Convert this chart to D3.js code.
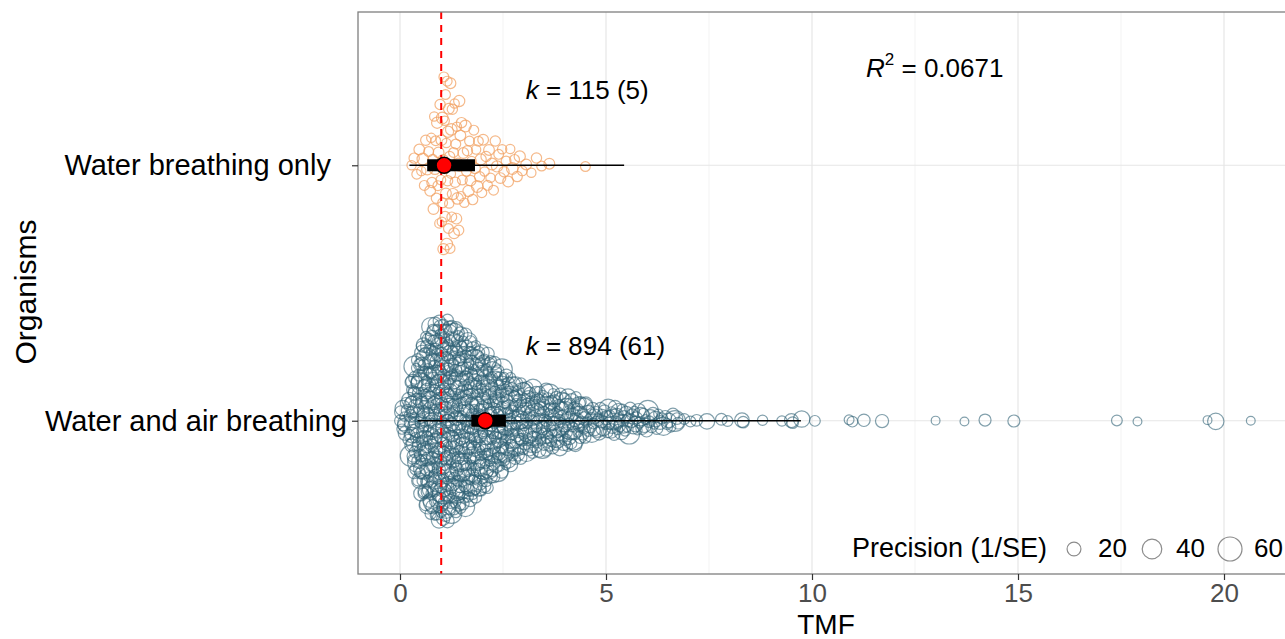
<!DOCTYPE html>
<html>
<head>
<meta charset="utf-8">
<script src="https://cdn.jsdelivr.net/npm/d3@7"></script>
<style>
  body { margin: 0; background: #fff; }
  text { font-family: "Liberation Sans", Arial, sans-serif; }
</style>
</head>
<body>
<div id="chart"></div>
<script>
const categories = ["Water breathing only", "Water and air breathing"];

const binWidth = 0.25;
const binStarts = [0, 0.25, 0.5, 0.75, 1, 1.25, 1.5, 1.75, 2, 2.25, 2.5, 2.75, 3, 3.25,
  3.5, 3.75, 4, 4.25, 4.5, 4.75, 5, 5.25, 5.5, 5.75, 6, 6.25, 6.5];
const countsWater = [0, 4, 7, 14, 25, 18, 10, 9, 7, 6, 5, 4, 2, 2,
  1, 0, 0, 0, 0, 0, 0, 0, 0, 0, 0, 0, 0];
const countsAir = [13, 47, 68, 79, 79, 73, 67, 59, 52, 43, 37, 30, 27, 25,
  24, 22, 21, 17, 12, 10, 12, 11, 10, 9, 8, 6, 5];

// isolated points in the tails
const tailWater = [4.5];
const tailWaterPrec = [10];
const tailAir = [6.75, 6.9, 7.05, 7.2, 7.45, 7.8, 7.95, 8.3, 8.33, 8.8, 9.27, 9.5, 9.53, 9.75,
  10.07, 10.9, 10.98, 11.26, 11.7, 13.0, 13.7, 14.2, 14.9, 17.4, 17.9, 19.6, 19.8, 20.65];
const tailAirPrec = [14, 12, 12, 14, 25, 14, 12, 22, 14, 11, 11, 20, 14, 28,
  12, 10, 12, 16, 18, 8, 8, 15, 15, 12, 8, 8, 28, 8];

const precWater = [9, 11, 10, 12, 9, 14, 10, 11, 13, 10, 12];
const precAir = [14, 18, 11, 25, 15, 9, 20, 13, 35, 16, 12, 22, 10, 17, 45, 14, 19];

// model estimates
const estimate = [1.07, 2.07];
const ciLow = [0.66, 1.73];
const ciHigh = [1.82, 2.57];
const piLow = [0.23, 0.43];
const piHigh = [5.44, 9.73];
const kText = ["115 (5)", "894 (61)"];
const r2Text = "0.0671";
const legendValues = [20, 40, 60];
const xTicks = [0, 5, 10, 15, 20];
const xMinor = [2.5, 7.5, 12.5, 17.5];
const refLine = 1;

const width = 1285, height = 639;
const panel = { left: 358, right: 1294, top: 12, bottom: 574 };

const x = d3.scaleLinear().domain([0, 20]).range([400, 1224]);
const y = d3.scalePoint().domain(categories).range([panel.top, panel.bottom]).padding(0.6);
const r = d3.scaleSqrt().domain([0, 60]).range([0, 12]);

const svg = d3.select("#chart").append("svg")
  .attr("width", width).attr("height", height);

svg.append("defs").append("clipPath").attr("id", "clip")
  .append("rect")
  .attr("x", panel.left).attr("y", panel.top)
  .attr("width", panel.right - panel.left).attr("height", panel.bottom - panel.top);

// grid
const grid = svg.append("g");
grid.selectAll(".minor").data(xMinor).enter().append("line")
  .attr("x1", d => x(d)).attr("x2", d => x(d))
  .attr("y1", panel.top).attr("y2", panel.bottom)
  .attr("stroke", "#ebebeb").attr("stroke-width", 0.6);
grid.selectAll(".major").data(xTicks).enter().append("line")
  .attr("x1", d => x(d)).attr("x2", d => x(d))
  .attr("y1", panel.top).attr("y2", panel.bottom)
  .attr("stroke", "#e6e6e6").attr("stroke-width", 1.2);
grid.selectAll(".hmajor").data(categories).enter().append("line")
  .attr("x1", panel.left).attr("x2", panel.right)
  .attr("y1", d => y(d)).attr("y2", d => y(d))
  .attr("stroke", "#e6e6e6").attr("stroke-width", 1.2);

// van der Corput sequence for quasirandom offsets
function vdc(n) {
  let q = 0, bk = 0.5;
  while (n > 0) { q += (n % 2) * bk; n = Math.floor(n / 2); bk /= 2; }
  return q;
}

function buildGroup(counts, tail, tailPrec, prec) {
  const pts = [];
  let k = 0;
  counts.forEach((n, i) => {
    for (let j = 0; j < n; j++) {
      pts.push({ v: binStarts[i] + binWidth * (j + 0.5) / n, p: prec[k % prec.length] });
      k++;
    }
  });
  tail.forEach((v, i) => pts.push({ v: v, p: tailPrec[i] }));
  // density per bin (all points), interpolated between bin centres
  const nb = Math.ceil(22 / binWidth);
  const hist = new Array(nb).fill(0);
  pts.forEach(d => hist[Math.min(nb - 1, Math.floor(d.v / binWidth))]++);
  const maxH = d3.max(hist);
  const dens = v => {
    const t = v / binWidth - 0.5;
    const i0 = Math.max(0, Math.floor(t)), i1 = Math.min(nb - 1, i0 + 1);
    const f = Math.max(0, Math.min(1, t - i0));
    return (hist[i0] * (1 - f) + hist[i1] * f) / maxH;
  };
  const sorted = pts.slice().sort((a, b) => a.v - b.v);
  sorted.forEach((d, i) => { d.off = (2 * vdc(i + 1) - 1) * dens(d.v); });
  return pts;
}

const groups = [
  { cat: categories[0], pts: buildGroup(countsWater, tailWater, tailWaterPrec, precWater), color: "#f2a263", op: 0.75 },
  { cat: categories[1], pts: buildGroup(countsAir, tailAir, tailAirPrec, precAir), color: "#2e6175", op: 0.6 }
];
const halfWidth = 102;

const plot = svg.append("g").attr("clip-path", "url(#clip)");
groups.forEach(g => {
  plot.append("g").selectAll("circle").data(g.pts).enter().append("circle")
    .attr("cx", d => x(d.v))
    .attr("cy", d => y(g.cat) + d.off * halfWidth)
    .attr("r", d => r(d.p))
    .attr("fill", "none")
    .attr("stroke", g.color)
    .attr("stroke-opacity", g.op)
    .attr("stroke-width", 1.2);
});

// reference line
plot.append("line")
  .attr("x1", x(refLine)).attr("x2", x(refLine))
  .attr("y1", panel.top).attr("y2", panel.bottom)
  .attr("stroke", "#ff0000").attr("stroke-width", 2)
  .attr("stroke-dasharray", "7,6");

// prediction & confidence intervals, estimates
const est = plot.append("g");
categories.forEach((c, i) => {
  est.append("line")
    .attr("x1", x(piLow[i])).attr("x2", x(piHigh[i]))
    .attr("y1", y(c)).attr("y2", y(c))
    .attr("stroke", "#000").attr("stroke-width", 1.6);
  est.append("rect")
    .attr("x", x(ciLow[i])).attr("width", x(ciHigh[i]) - x(ciLow[i]))
    .attr("y", y(c) - 6).attr("height", 12)
    .attr("fill", "#000");
  est.append("circle")
    .attr("cx", x(estimate[i])).attr("cy", y(c)).attr("r", 8)
    .attr("fill", "#ff0000").attr("stroke", "#000").attr("stroke-width", 1.5);
});

// k labels
categories.forEach((c, i) => {
  const t = svg.append("text")
    .attr("x", x(3.05)).attr("y", y(c) - 66)
    .attr("font-size", 26).attr("fill", "#000")
    .style("white-space", "pre");
  t.append("tspan").attr("font-style", "italic").text("k");
  t.append("tspan").text(" = " + kText[i]);
});

// R squared
const r2 = svg.append("text").attr("x", 866).attr("y", 77).attr("font-size", 26).attr("fill", "#000")
  .style("white-space", "pre");
r2.append("tspan").attr("font-style", "italic").text("R");
r2.append("tspan").attr("font-size", 17).attr("dy", -12).text("2");
r2.append("tspan").attr("dy", 12).text(" = " + r2Text);

// legend
const leg = svg.append("g");
leg.append("text").attr("x", 852).attr("y", 557).attr("font-size", 27).attr("fill", "#000")
  .text("Precision (1/SE)");
const legX = [1074, 1152, 1230];
legendValues.forEach((v, i) => {
  leg.append("circle").attr("cx", legX[i]).attr("cy", 549).attr("r", r(v))
    .attr("fill", "none").attr("stroke", "#8c8c8c").attr("stroke-width", 1.2);
  leg.append("text").attr("x", legX[i] + 24).attr("y", 557).attr("font-size", 26).attr("fill", "#000")
    .text(v);
});

// panel border
svg.append("rect")
  .attr("x", panel.left).attr("y", panel.top)
  .attr("width", panel.right - panel.left).attr("height", panel.bottom - panel.top)
  .attr("fill", "none").attr("stroke", "#7f7f7f").attr("stroke-width", 1.3);

// axes
const xAxis = svg.append("g")
  .attr("transform", `translate(0,${panel.bottom})`)
  .call(d3.axisBottom(x).tickValues(xTicks).tickSize(6).tickPadding(4));
xAxis.select(".domain").remove();
xAxis.selectAll("line").attr("stroke", "#333").attr("stroke-width", 1.2);
xAxis.selectAll("text").attr("font-size", 26).attr("fill", "#4d4d4d")
  .attr("font-family", "Liberation Sans, Arial, sans-serif");

const yAxis = svg.append("g")
  .attr("transform", `translate(${panel.left},0)`)
  .call(d3.axisLeft(y).tickSize(6).tickPadding(5)
    .tickFormat(d => d === categories[0] ? d + "  " : d));
yAxis.select(".domain").remove();
yAxis.selectAll("line").attr("stroke", "#333").attr("stroke-width", 1.2);
yAxis.selectAll("text").attr("font-size", 29).attr("fill", "#000")
  .attr("font-family", "Liberation Sans, Arial, sans-serif")
  .style("white-space", "pre");

// axis titles
svg.append("text").attr("x", 826).attr("y", 634).attr("text-anchor", "middle")
  .attr("font-size", 28).attr("fill", "#000").text("TMF");
svg.append("text").attr("transform", "translate(36,292) rotate(-90)").attr("text-anchor", "middle")
  .attr("font-size", 30).attr("fill", "#000").text("Organisms");
</script>
</body>
</html>
